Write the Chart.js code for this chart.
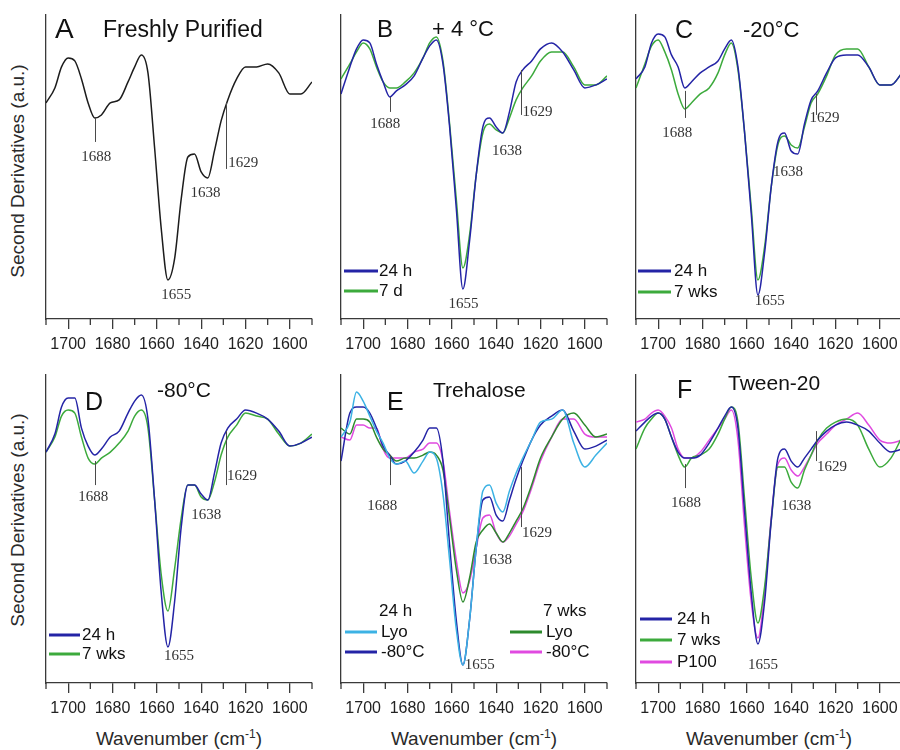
<!DOCTYPE html>
<html>
<head>
<meta charset="utf-8">
<script src="https://cdn.jsdelivr.net/npm/chart.js@4.4.1/dist/chart.umd.min.js"></script>
<style>
  body { margin: 0; width: 900px; height: 750px; overflow: hidden; background: #fff; position: relative;
         font-family: "Liberation Sans", Arial, sans-serif; color: #2a2a2a; }
  canvas { position: absolute; }
  .ytitle { position: absolute; font-size: 19px; white-space: nowrap; line-height: 1;
            transform: translate(-50%, -50%) rotate(-90deg); }
  .xtitle { position: absolute; font-size: 19px; white-space: nowrap; line-height: 19px;
            transform: translateX(-50%); }
  .xtitle span { font-size: 12px; position: relative; top: -7px; }
</style>
</head>
<body>
<div class="ytitle" style="left:17px;top:171px">Second Derivatives (a.u.)</div>
<div class="ytitle" style="left:17px;top:520px">Second Derivatives (a.u.)</div>
<div class="xtitle" style="left:179px;top:729px">Wavenumber (cm<span>-1</span>)</div>
<div class="xtitle" style="left:474px;top:729px">Wavenumber (cm<span>-1</span>)</div>
<div class="xtitle" style="left:769px;top:729px">Wavenumber (cm<span>-1</span>)</div>
<script>
// wavenumber grid shared by every spectrum (cm-1)
const WAVENUMBERS = [1710, 1706, 1703, 1700, 1697, 1694, 1691, 1688, 1685, 1681, 1677, 1673, 1670, 1667, 1664, 1661, 1658,
  1655, 1652, 1649, 1646, 1643, 1640, 1637, 1634, 1631, 1628, 1624, 1620, 1615, 1610, 1605, 1600, 1595, 1590];
const MAJOR_TICKS = [1700, 1680, 1660, 1640, 1620, 1600];
const MINOR_TICKS = [1710, 1690, 1670, 1650, 1630, 1610, 1590];

// second derivative spectra (a.u.)
const A_FRESH = [72, 77, 84, 87, 86, 80, 72, 67, 68, 72, 73, 79, 84, 88, 82, 57, 30, 13, 20, 40, 54, 55, 49, 47, 56, 66, 73, 80, 84, 84, 85, 82, 75, 75, 79];
const B_24H = [75, 84, 90, 93, 92, 85, 79, 74, 76, 78, 81, 87, 91, 93, 85, 64, 37, 10, 26, 48, 64, 67, 64, 62, 69, 79, 83, 86, 90, 92, 89, 83, 77, 78, 80];
const B_7D = [80, 85, 89, 92, 90, 84, 79, 77, 77, 79, 82, 87, 92, 94, 86, 65, 40, 17, 28, 48, 62, 65, 63, 62, 67, 73, 77, 81, 86, 89, 89, 84, 78, 78, 81];
const C_24H = [80, 84, 92, 95, 94, 88, 84, 77, 79, 82, 84, 86, 90, 93, 84, 62, 35, 8, 22, 44, 59, 62, 56, 55, 65, 73, 76, 82, 87, 88, 88, 84, 78, 78, 82];
const C_7WKS = [77, 85, 91, 93, 89, 83, 75, 70, 72, 75, 77, 82, 88, 92, 83, 62, 37, 13, 24, 44, 58, 61, 58, 57, 64, 72, 75, 81, 88, 90, 90, 84, 78, 78, 82];
const D_24H = [77, 83, 92, 95, 95, 85, 79, 76, 78, 82, 84, 90, 94, 96, 88, 61, 30, 12, 27, 52, 66, 66, 63, 61, 70, 80, 85, 88, 91, 90, 88, 84, 79, 80, 82];
const D_7WKS = [77, 82, 89, 91, 90, 82, 75, 73, 75, 77, 80, 84, 89, 91, 85, 61, 36, 24, 38, 55, 66, 66, 62, 61, 67, 76, 82, 86, 90, 89, 88, 83, 79, 80, 83];
const E_LYO_24H = [82, 87, 97, 94, 89, 84, 80, 75, 73, 74, 70, 74, 77, 75, 63, 41, 18, 6, 21, 45, 64, 66, 60, 57, 64, 70, 75, 81, 87, 88, 91, 80, 72, 76, 80];
const E_M80_24H = [74, 90, 92, 92, 90, 85, 79, 76, 73, 74, 77, 81, 85, 85, 74, 46, 21, 6, 21, 45, 61, 62, 56, 54, 61, 68, 74, 81, 86, 89, 91, 84, 78, 79, 81];
const E_LYO_7WKS = [85, 83, 88, 88, 87, 82, 78, 76, 74, 75, 75, 76, 77, 76, 71, 55, 38, 27, 35, 47, 51, 53, 50, 47, 50, 54, 58, 66, 75, 82, 88, 90, 86, 82, 83];
const E_M80_7WKS = [82, 81, 86, 86, 85, 85, 78, 75, 75, 75, 77, 78, 80, 80, 74, 57, 41, 30, 34, 45, 55, 56, 50, 47, 49, 53, 57, 65, 74, 82, 88, 88, 83, 82, 82];
const F_24H = [84, 87, 89, 90, 88, 82, 77, 75, 75, 76, 80, 85, 89, 92, 85, 57, 30, 13, 27, 54, 75, 78, 74, 72, 75, 78, 81, 84, 86, 87, 86, 84, 80, 77, 78];
const F_7WKS = [78, 85, 88, 90, 88, 82, 76, 72, 75, 76, 78, 83, 88, 92, 87, 61, 35, 20, 32, 54, 72, 72, 67, 65, 71, 76, 81, 85, 87, 88, 86, 78, 72, 75, 82];
const F_P100 = [87, 88, 90, 91, 89, 85, 78, 75, 75, 77, 81, 85, 88, 91, 81, 52, 27, 15, 30, 55, 73, 75, 71, 69, 72, 76, 80, 83, 86, 88, 90, 86, 81, 80, 81];

// band assignments: marker line (at, from, to) and label position (tx, ty) in data units
const MARKS_A = [
  { label: "1688", at: 1688, from: 67, to: 59, tx: 1687.3, ty: 54, align: "center" },
  { label: "1655", tx: 1651.2, ty: 8, align: "center" },
  { label: "1638", tx: 1638, ty: 42, align: "center" },
  { label: "1629", at: 1629, from: 72, to: 50, tx: 1627.8, ty: 52, align: "left" },
];
const MARKS_B = [
  { label: "1688", at: 1688, from: 74, to: 69, tx: 1690, ty: 65, align: "center" },
  { label: "1655", tx: 1654.7, ty: 5, align: "center" },
  { label: "1638", tx: 1635.1, ty: 56, align: "center" },
  { label: "1629", at: 1628.8, from: 83, to: 68, tx: 1628.1, ty: 69, align: "left" },
];
const MARKS_C = [
  { label: "1688", at: 1688, from: 76, to: 67, tx: 1691.4, ty: 62, align: "center" },
  { label: "1655", tx: 1649.7, ty: 6, align: "center" },
  { label: "1638", tx: 1641.4, ty: 49, align: "center" },
  { label: "1629", at: 1629, from: 75, to: 68, tx: 1631.7, ty: 67, align: "left" },
];
const MARKS_D = [
  { label: "1688", at: 1688, from: 74, to: 66, tx: 1688.7, ty: 62, align: "center" },
  { label: "1655", tx: 1650, ty: 9, align: "center" },
  { label: "1638", tx: 1637.7, ty: 56, align: "center" },
  { label: "1629", at: 1629, from: 84, to: 66, tx: 1628.4, ty: 69, align: "left" },
];
const MARKS_E = [
  { label: "1688", at: 1688, from: 76, to: 66, tx: 1691.4, ty: 59, align: "center" },
  { label: "1655", tx: 1654.2, ty: 6, align: "left" },
  { label: "1638", tx: 1639.6, ty: 41, align: "center" },
  { label: "1629", at: 1628.8, from: 72, to: 52, tx: 1628.4, ty: 50, align: "left" },
];
const MARKS_F = [
  { label: "1688", at: 1688, from: 73, to: 65, tx: 1687.5, ty: 60, align: "center" },
  { label: "1655", tx: 1652.7, ty: 6, align: "center" },
  { label: "1638", tx: 1637.7, ty: 59, align: "center" },
  { label: "1629", at: 1629, from: 84, to: 74, tx: 1628.4, ty: 72, align: "left" },
];

const BLACK = "#1c1c1c", BLUE = "#2424a6", GREEN = "#3caa3c", LIGHTBLUE = "#3cb2e4",
  DKGREEN = "#2d8a2d", MAGENTA = "#e04ae0", AXIS = "#3a3a3a";
const SANS = '"Liberation Sans", Arial, sans-serif';
const SERIF = '"Liberation Serif", "Times New Roman", serif';

const PANELS = [
  { left: 46, right: 312, top: 15, bottom: 319, ymax: 101.3, marks: MARKS_A,
    series: [{ label: "Freshly Purified", data: A_FRESH, color: BLACK }],
    titles: [{ text: "A", size: 28, x: 55, y: 38 }, { text: "Freshly Purified", size: 23, x: 103, y: 37 }],
    legend: [] },
  { left: 341, right: 607, top: 15, bottom: 319, ymax: 101.3, marks: MARKS_B,
    series: [{ label: "24 h", data: B_24H, color: BLUE }, { label: "7 d", data: B_7D, color: GREEN }],
    titles: [{ text: "B", size: 24, x: 377, y: 37 }, { text: "+ 4 °C", size: 22, x: 432, y: 36 }],
    legend: [{ text: "24 h", color: BLUE, x1: 344, x2: 378, tx: 379, y: 271 },
             { text: "7 d", color: GREEN, x1: 344, x2: 378, tx: 379, y: 291 }] },
  { left: 636, right: 902, top: 15, bottom: 319, ymax: 101.3, marks: MARKS_C,
    series: [{ label: "24 h", data: C_24H, color: BLUE }, { label: "7 wks", data: C_7WKS, color: GREEN }],
    titles: [{ text: "C", size: 25, x: 675, y: 38 }, { text: "-20°C", size: 22, x: 743, y: 37 }],
    legend: [{ text: "24 h", color: BLUE, x1: 638, x2: 671, tx: 674, y: 271 },
             { text: "7 wks", color: GREEN, x1: 638, x2: 671, tx: 674, y: 292 }] },
  { left: 46, right: 312, top: 375, bottom: 683, ymax: 102.7, marks: MARKS_D,
    series: [{ label: "24 h", data: D_24H, color: BLUE }, { label: "7 wks", data: D_7WKS, color: GREEN }],
    titles: [{ text: "D", size: 25, x: 85, y: 410 }, { text: "-80°C", size: 21, x: 157, y: 397 }],
    legend: [{ text: "24 h", color: BLUE, x1: 49, x2: 80, tx: 82, y: 635 },
             { text: "7 wks", color: GREEN, x1: 49, x2: 80, tx: 82, y: 654 }] },
  { left: 341, right: 607, top: 375, bottom: 683, ymax: 102.7, marks: MARKS_E,
    series: [{ label: "Lyo 24 h", data: E_LYO_24H, color: LIGHTBLUE }, { label: "-80°C 24 h", data: E_M80_24H, color: BLUE },
             { label: "Lyo 7 wks", data: E_LYO_7WKS, color: DKGREEN }, { label: "-80°C 7 wks", data: E_M80_7WKS, color: MAGENTA }],
    titles: [{ text: "E", size: 25, x: 387, y: 410 }, { text: "Trehalose", size: 21, x: 433, y: 397 }],
    legend: [{ text: "24 h", color: null, tx: 379, y: 611 },
             { text: "Lyo", color: LIGHTBLUE, x1: 345, x2: 377, tx: 381, y: 632 },
             { text: "-80°C", color: BLUE, x1: 345, x2: 377, tx: 381, y: 652 },
             { text: "7 wks", color: null, tx: 543, y: 611 },
             { text: "Lyo", color: DKGREEN, x1: 510, x2: 542, tx: 546, y: 632 },
             { text: "-80°C", color: MAGENTA, x1: 510, x2: 542, tx: 546, y: 652 }] },
  { left: 636, right: 902, top: 375, bottom: 683, ymax: 102.7, marks: MARKS_F,
    series: [{ label: "24 h", data: F_24H, color: BLUE }, { label: "7 wks", data: F_7WKS, color: GREEN },
             { label: "P100", data: F_P100, color: MAGENTA }],
    titles: [{ text: "F", size: 25, x: 677, y: 398 }, { text: "Tween-20", size: 21, x: 728, y: 390 }],
    legend: [{ text: "24 h", color: BLUE, x1: 640, x2: 672, tx: 677, y: 619 },
             { text: "7 wks", color: GREEN, x1: 640, x2: 672, tx: 677, y: 640 },
             { text: "P100", color: MAGENTA, x1: 640, x2: 672, tx: 677, y: 662 }] },
];

const PAD = 14, PAD_TOP = 12, AXIS_H = 40;

function makePanel(p) {
  const canvas = document.createElement("canvas");
  canvas.width = p.right - p.left + 2 * PAD;
  canvas.height = p.bottom - p.top + PAD_TOP + AXIS_H;
  canvas.style.left = (p.left - PAD) + "px";
  canvas.style.top = (p.top - PAD_TOP) + "px";
  document.body.appendChild(canvas);

  const decor = {
    id: "decor",
    afterDraw(chart) {
      const { ctx, chartArea, scales } = chart;
      const xs = scales.x, ys = scales.y;
      // page coords -> canvas coords
      const px = (v) => v - p.left + chartArea.left;
      const py = (v) => v - p.top + chartArea.top;
      ctx.save();

      ctx.strokeStyle = AXIS;
      ctx.lineWidth = 1.3;
      MINOR_TICKS.forEach((v) => {
        const x = xs.getPixelForValue(v);
        ctx.beginPath();
        ctx.moveTo(x, chartArea.bottom);
        ctx.lineTo(x, chartArea.bottom + 6);
        ctx.stroke();
      });

      ctx.strokeStyle = "#4a4a4a";
      ctx.lineWidth = 1;
      ctx.fillStyle = "#333";
      ctx.font = "15px " + SERIF;
      ctx.textBaseline = "middle";
      p.marks.forEach((m) => {
        if (m.at !== undefined) {
          const x = Math.round(xs.getPixelForValue(m.at)) + 0.5;
          ctx.beginPath();
          ctx.moveTo(x, ys.getPixelForValue(m.from));
          ctx.lineTo(x, ys.getPixelForValue(m.to));
          ctx.stroke();
        }
        ctx.textAlign = m.align;
        ctx.fillText(m.label, xs.getPixelForValue(m.tx), ys.getPixelForValue(m.ty));
      });

      ctx.fillStyle = "#111";
      ctx.textAlign = "left";
      ctx.textBaseline = "alphabetic";
      p.titles.forEach((t) => {
        ctx.font = t.size + "px " + SANS;
        ctx.fillText(t.text, px(t.x), py(t.y));
      });

      ctx.font = "17px " + SANS;
      ctx.textBaseline = "middle";
      ctx.lineWidth = 3;
      p.legend.forEach((l) => {
        if (l.color) {
          ctx.strokeStyle = l.color;
          ctx.beginPath();
          ctx.moveTo(px(l.x1), py(l.y));
          ctx.lineTo(px(l.x2), py(l.y));
          ctx.stroke();
        }
        ctx.fillStyle = "#111";
        ctx.fillText(l.text, px(l.tx), py(l.y));
      });
      ctx.restore();
    },
  };

  new Chart(canvas, {
    type: "line",
    data: {
      datasets: p.series.map((s) => ({
        label: s.label,
        data: WAVENUMBERS.map((w, i) => ({ x: w, y: s.data[i] })),
        borderColor: s.color,
        borderWidth: 1.5,
        pointRadius: 0,
        cubicInterpolationMode: "monotone",
        fill: false,
      })),
    },
    options: {
      responsive: false,
      animation: false,
      devicePixelRatio: 1,
      layout: { padding: { left: PAD, right: PAD, top: PAD_TOP, bottom: 0 } },
      plugins: { legend: { display: false }, tooltip: { enabled: false } },
      scales: {
        x: {
          type: "linear",
          reverse: true,
          min: 1590,
          max: 1710,
          afterBuildTicks: (scale) => { scale.ticks = MAJOR_TICKS.map((v) => ({ value: v })); },
          afterFit: (scale) => { scale.height = AXIS_H; },
          grid: { drawOnChartArea: false, tickLength: 10, color: AXIS, lineWidth: 1.3 },
          border: { display: true, color: AXIS, width: 1.3 },
          ticks: { color: "#222", font: { family: SANS, size: 16 }, padding: 6, maxRotation: 0,
                   autoSkip: false, callback: (v) => String(v) },
        },
        y: {
          min: 0,
          max: p.ymax,
          afterFit: (scale) => { scale.width = 0; },
          ticks: { display: false },
          grid: { display: false, drawTicks: false },
          border: { display: true, color: AXIS, width: 1.3 },
        },
      },
    },
    plugins: [decor],
  });
}

PANELS.forEach(makePanel);
</script>
</body>
</html>
